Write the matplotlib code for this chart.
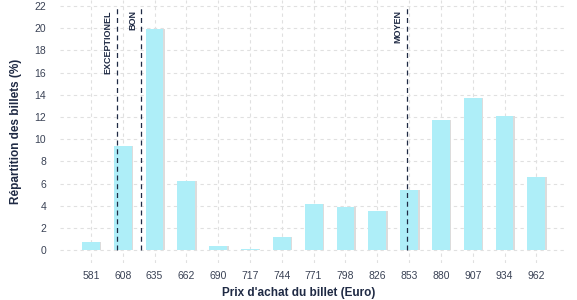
import numpy as np
import matplotlib
matplotlib.use('Agg')
import matplotlib.pyplot as plt

plt.rcParams['font.family'] = ['Liberation Sans', 'DejaVu Sans']

# Data
prices = ['581', '608', '635', '662', '690', '717', '744', '771', '798', '826',
          '853', '880', '907', '934', '962']
shares = [0.7, 9.35, 19.95, 6.2, 0.35, 0.1, 1.15, 4.2, 3.9, 3.5,
          5.4, 11.7, 13.7, 12.1, 6.6]

# reference lines (in category-index units) and their labels
ref_labels = ['EXCEPTIONEL', 'BON', 'MOYEN']
ref_pos = [0.81, 1.58, 9.92]

bar_color = '#aeeef8'
shadow_color = '#dcdcdc'
navy = '#1f2a44'
tick_color = '#3a4255'

fig = plt.figure(figsize=(5.77, 3.0), dpi=100)
ax = fig.add_axes([0.104, 0.123, 0.879, 0.877])

x = np.arange(len(prices))
# light gray shadow slightly to the right of each bar
ax.bar(x + 0.05, shares, width=0.56, color=shadow_color, zorder=2)
ax.bar(x, shares, width=0.56, color=bar_color, zorder=3)

for pos, lab in zip(ref_pos, ref_labels):
    ax.plot([pos, pos], [0, 22], color=navy, lw=0.9, ls=(0, (4, 3)), zorder=4)
    ax.text(pos - 0.12, 21.6, lab, rotation=90, ha='right', va='top',
            fontsize=6.5, fontweight='bold', color=navy)

ax.set_xlim(-0.97, 14.97)
ax.set_ylim(-1.17, 22.54)
ax.set_xticks(x)
ax.set_xticklabels(prices)
ax.set_yticks(np.arange(0, 23, 2))
ax.tick_params(length=0, labelsize=7.5, colors=tick_color, pad=6)
ax.tick_params(axis='y', pad=10)

ax.grid(True, color='#e0e0e0', ls=(0, (3, 3)), lw=0.8, zorder=0)
ax.set_axisbelow(True)
for s in ax.spines.values():
    s.set_visible(False)

ax.set_xlabel("Prix d'achat du billet (Euro)", fontsize=8.5, fontweight='bold',
              color=navy, labelpad=4)
ax.xaxis.label.set_x(0.47)
ax.set_ylabel('Répartition des billets (%)', fontsize=8.5, fontweight='bold',
              color=navy, labelpad=9)

fig.savefig('out.png', dpi=100)
